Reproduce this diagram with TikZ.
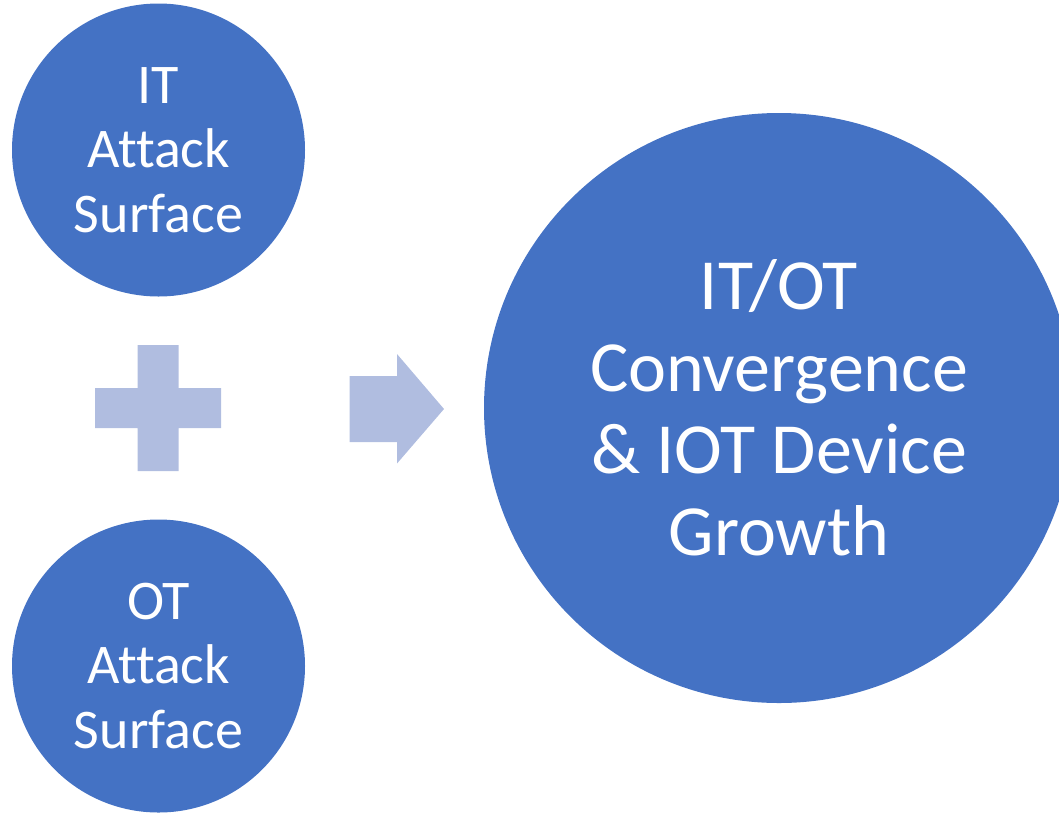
\documentclass[tikz,border=0pt]{standalone}
\usepackage{fontspec}
\setmainfont{Carlito}[Ligatures=NoCommon]
\usepackage{xcolor}
\usepackage{tikz}
\usetikzlibrary{positioning,calc}
\definecolor{officeblue}{HTML}{4472C4}
\definecolor{paleblue}{HTML}{B0BDE0}
\tikzset{
  surface/.style={circle,fill=officeblue,draw=none,text=white,align=center,
    minimum size=293pt,inner sep=0pt,
    font=\fontsize{56pt}{64.5pt}\selectfont},
  bigsurface/.style={circle,fill=officeblue,draw=none,text=white,align=center,
    minimum size=590pt,inner sep=0pt,
    font=\fontsize{72pt}{82pt}\selectfont},
  glyph/.style={fill=paleblue,draw=none},
}
\begin{document}
\begin{tikzpicture}[x=1pt,y=-1pt]
  \useasboundingbox (0,0) rectangle (1059,812);
  \clip (0,0) rectangle (1059,812);

  \node[surface] (IT) at (158.5,150) {IT\\Attack\\Surface};
  \node[surface] (OT) at (158.5,666) {OT\\Attack\\Surface};
  \node[bigsurface] (CONV) at (779,408) {IT/OT\\Convergence\\\& IOT Device\\Growth};

  % plus sign
  \fill[glyph] (137.5,345) -- (178.5,345) -- (178.5,388) -- (221,388)
    -- (221,428) -- (178.5,428) -- (178.5,471) -- (137.5,471)
    -- (137.5,428) -- (95,428) -- (95,388) -- (137.5,388) -- cycle;

  % arrow
  \fill[glyph] (349.5,376) -- (397,376) -- (397,354) -- (444,409)
    -- (397,463.5) -- (397,442) -- (349.5,442) -- cycle;
\end{tikzpicture}
\end{document}
